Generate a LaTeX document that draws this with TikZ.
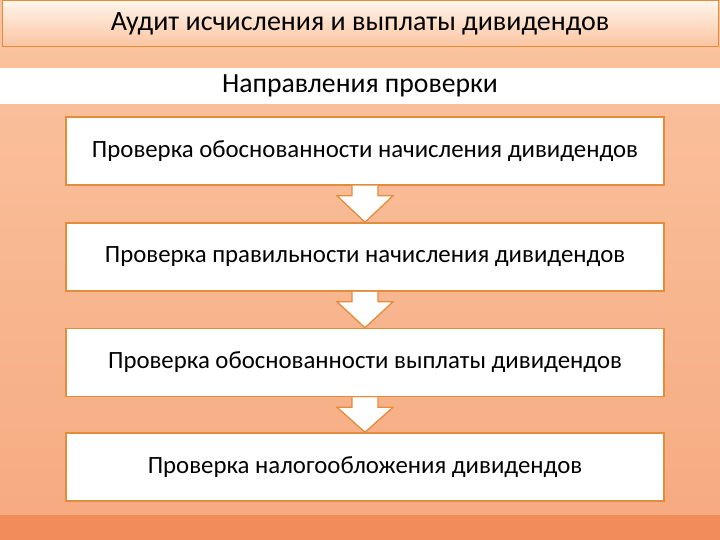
\documentclass[tikz,border=0pt]{standalone}
\usepackage{fontspec}
\setmainfont{Carlito}
\definecolor{bgtop}{RGB}{250,196,160}
\definecolor{bgbot}{RGB}{246,170,128}
\definecolor{edge}{RGB}{226,140,60}
\definecolor{strip}{RGB}{242,140,90}
\begin{document}
\begin{tikzpicture}[x=1pt,y=-1pt,
  stepbox/.style={draw=edge,line width=1.5pt,fill=white,minimum width=598pt,minimum height=68pt,font=\fontsize{24.8}{28}\selectfont},
  arr/.style={draw=edge,line width=1.3pt,fill=white}]
\useasboundingbox (0,0) rectangle (720,540);
\fill[top color=bgtop,bottom color=bgbot] (0,0) rectangle (720,540);
\fill[strip] (0,515) rectangle (720,540);
\node[draw=edge,line width=1pt,top color=orange!8!white,bottom color=bgtop,minimum width=716pt,minimum height=46pt,font=\fontsize{28}{32}\selectfont] (title) at (360,24) {Аудит исчисления и выплаты дивидендов};
\node[fill=white,minimum width=720pt,minimum height=36pt,font=\fontsize{27.7}{32}\selectfont] (dir) at (360,86) {Направления проверки};
\node[stepbox] (b1) at (365,151) {Проверка обоснованности начисления дивидендов};
\node[stepbox] (b2) at (365,257) {Проверка правильности начисления дивидендов};
\node[stepbox] (b3) at (365,362.5) {Проверка обоснованности выплаты дивидендов};
\node[stepbox] (b4) at (365,467) {Проверка налогообложения дивидендов};
\foreach \a/\b in {b1/b2,b2/b3,b3/b4}{
  \draw[arr] ([xshift=-13pt]\a.south) -- ([xshift=-13pt,yshift=-10pt]\a.south) -- ([xshift=-28pt,yshift=-10pt]\a.south) -- (\b.north) -- ([xshift=28pt,yshift=-10pt]\a.south) -- ([xshift=13pt,yshift=-10pt]\a.south) -- ([xshift=13pt]\a.south);
}
\end{tikzpicture}
\end{document}
